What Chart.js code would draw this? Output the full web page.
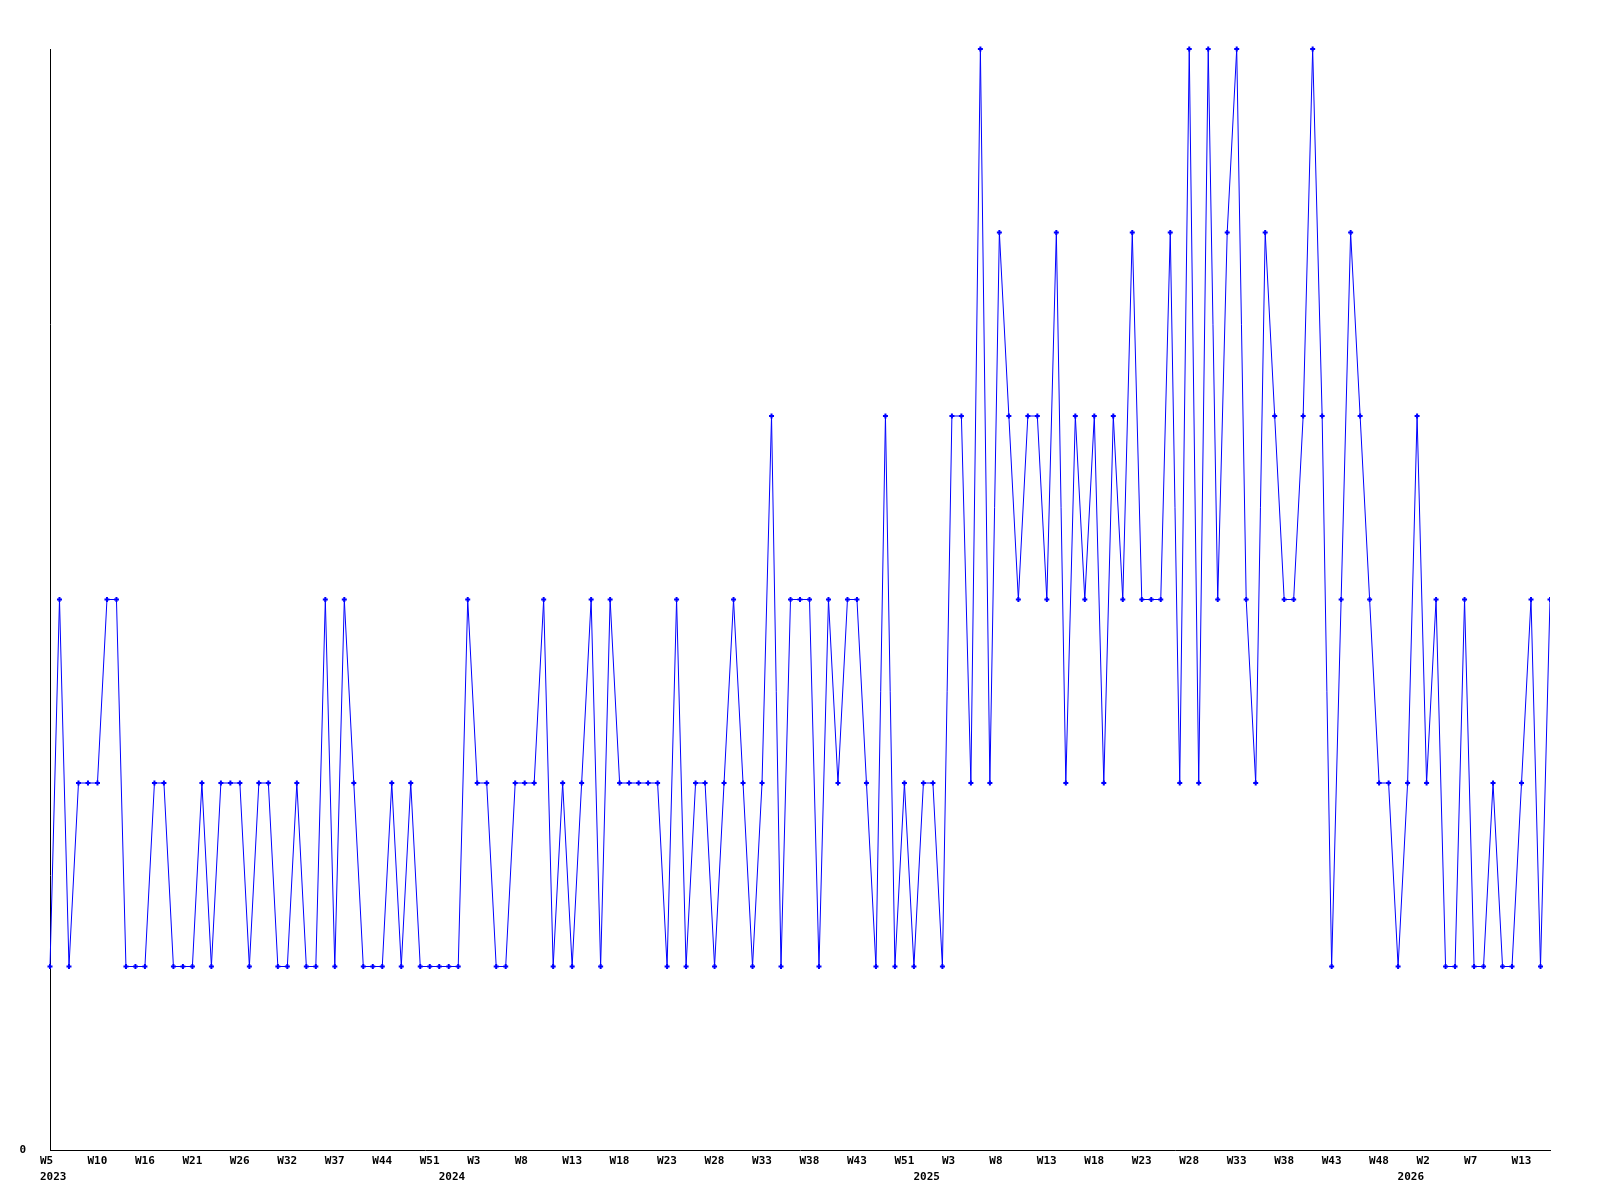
<!DOCTYPE html>
<html>
<head>
<meta charset="utf-8">
<script src="https://cdn.jsdelivr.net/npm/chart.js@4.4.1/dist/chart.umd.min.js"></script>
<style>
  html, body { margin: 0; padding: 0; background: #fff; }
  #grafico { display: block; }
</style>
</head>
<body>
<canvas id="grafico" width="1600" height="1200"></canvas>
<script>
// one value per week
const valores = [
  1,3,1,2,2,2,3,3,1,1,1,2,2,1,1,1,2,1,2,2,2,
  1,2,2,1,1,2,1,1,3,1,3,2,1,1,1,2,1,2,1,1,
  1,1,1,3,2,2,1,1,2,2,2,3,1,2,1,2,3,1,3,2,
  2,2,2,2,1,3,1,2,2,1,2,3,2,1,2,4,1,3,3,3,
  1,3,2,3,3,2,1,4,1,2,1,2,2,1,4,4,2,6,2,5,
  4,3,4,4,3,5,2,4,3,4,2,4,3,5,3,3,3,5,2,6,
  2,6,3,5,6,3,2,5,4,3,3,4,6,4,1,3,5,4,3,2,
  2,1,2,4,2,3,1,1,3,1,1,2,1,1,2,3,1,3
]

// week labels shown on the axis, one every 5 points
const semanasTicks = [
  'W5','W10','W16','W21','W26','W32','W37','W44','W51',
  'W3','W8','W13','W18','W23','W28','W33','W38','W43','W51',
  'W3','W8','W13','W18','W23','W28','W33','W38','W43','W48',
  'W2','W7','W13'
]
const passoTicks = 5

// year labels and the point where each year begins
const anos = ['2023', '2024', '2025', '2026']
const inicioAno = [0, 42, 92, 143]

const rotulos = valores.map((v, i) => i)

const fonteEixo = {
  family: 'DejaVu Sans Mono',
  size: 11,
  weight: 'bold',
  lineHeight: '16px'
}

const ctx = document.getElementById('grafico').getContext('2d')

new Chart(ctx, {
  type: 'line',
  data: {
    labels: rotulos,
    datasets: [{
      data: valores,
      borderColor: '#0000ff',
      borderWidth: 1,
      backgroundColor: '#0000ff',
      pointRadius: 2.5,
      pointStyle: 'cross',
      pointBorderWidth: 2,
      pointBorderColor: '#0000ff',
      pointBackgroundColor: '#0000ff',
      tension: 0,
      clip: { left: 5, top: 5, right: 0, bottom: 5 }
    }]
  },
  options: {
    responsive: false,
    animation: false,
    layout: { padding: { top: 49, right: 50, left: 0, bottom: 0 } },
    plugins: {
      legend: { display: false },
      tooltip: { enabled: false },
      title: { display: false }
    },
    scales: {
      x: {
        grid: { display: false, drawTicks: false },
        border: { display: true, color: '#000', width: 1 },
        afterFit: (s) => { s.height = 50 },
        ticks: {
          autoSkip: false,
          maxRotation: 0,
          minRotation: 0,
          align: 'start',
          labelOffset: -10,
          padding: 3,
          color: '#000',
          font: fonteEixo,
          callback: function (valor, i) {
            let semana = i % passoTicks === 0 ? semanasTicks[i / passoTicks] : ''
            if (semana === undefined) semana = ''
            const a = inicioAno.indexOf(i)
            if (a >= 0) return [semana, anos[a]]
            return semana
          }
        }
      },
      y: {
        min: 0,
        max: 6,
        grid: { display: false, drawTicks: false },
        border: { display: true, color: '#000', width: 1 },
        afterFit: (s) => { s.width = 50 },
        ticks: {
          stepSize: 1,
          padding: 24,
          color: '#000',
          font: fonteEixo,
          callback: (valor) => valor === 0 ? '0' : ''
        }
      }
    }
  }
})
</script>
</body>
</html>
